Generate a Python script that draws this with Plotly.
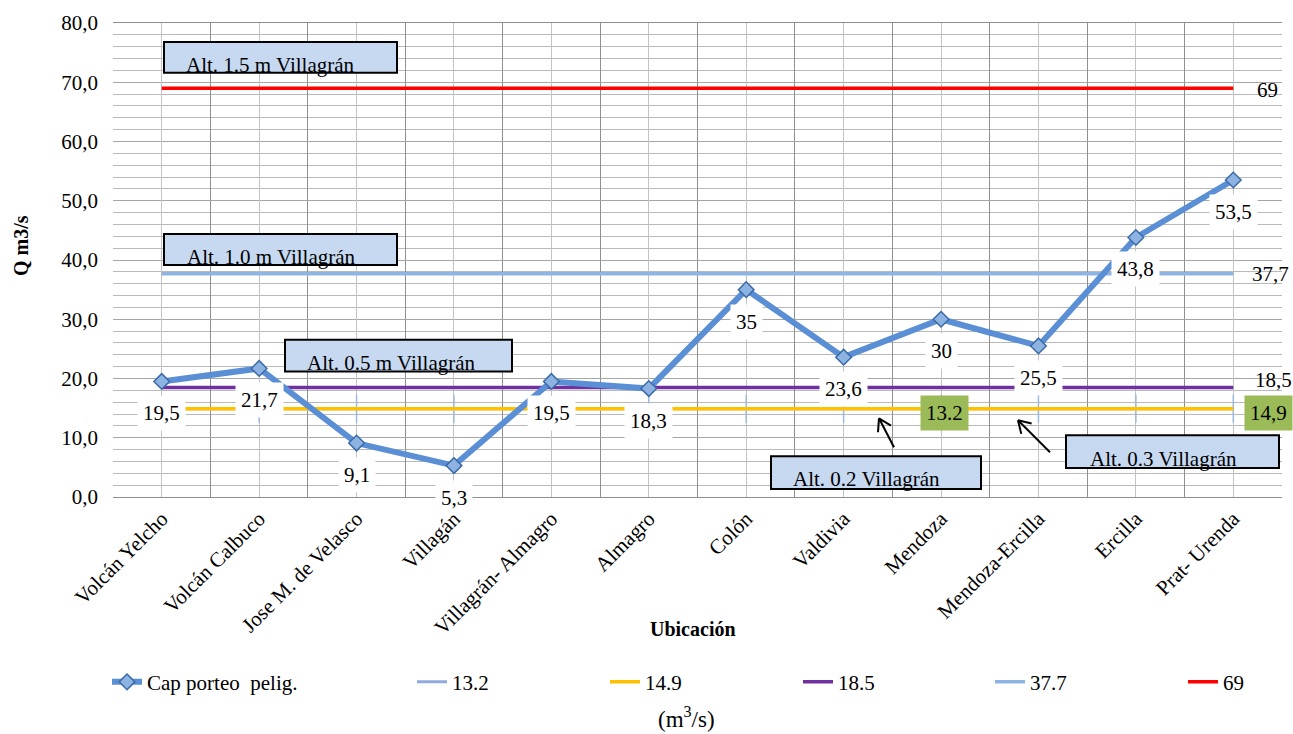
import math
import plotly.graph_objects as go

# ---- data ----
ubicaciones = ["Volcán Yelcho", "Volcán Calbuco", "Jose M. de Velasco", "Villagán",
               "Villagrán- Almagro", "Almagro", "Colón", "Valdivia", "Mendoza",
               "Mendoza-Ercilla", "Ercilla", "Prat- Urenda"]
cap_porteo = [19.5, 21.7, 9.1, 5.3, 19.5, 18.3, 35, 23.6, 30, 25.5, 43.8, 53.5]

ref_names = ["13.2", "14.9", "18.5", "37.7", "69"]
ref_levels = [14.9, 14.9, 18.5, 37.7, 69]
ref_colors = ["#8eaadb", "#ffc000", "#7030a0", "#8db4e2", "#ff0000"]

alt_labels = ["Alt. 1.5 m Villagrán", "Alt. 1.0 m Villagrán", "Alt. 0.5 m Villagrán",
              "Alt. 0.2 Villagrán", "Alt. 0.3 Villagrán"]

FONT = "Liberation Serif"
FS = 21
W, H = 1293, 734
L, R, T, B = 113, 11, 21, 237
PW, PH = W - L - R, H - T - B


def px(x):
    return (x - L) / PW


def py(y):
    return (H - B - y) / PH


def fmt(v):
    return f"{v:g}".replace(".", ",")


def f(size=FS):
    return dict(family=FONT, size=size, color="black")


fig = go.Figure()

# reference levels (horizontal series across all locations)
for i, (name, lvl, col) in enumerate(zip(ref_names, ref_levels, ref_colors)):
    if i == 0:
        # tick markers of the first level, kept out of the legend
        fig.add_trace(go.Scatter(
            x=ubicaciones, y=[lvl] * len(ubicaciones), mode="markers", showlegend=False,
            marker=dict(symbol="line-ns-open", size=20, color="#9db8e0",
                        line=dict(color="#9db8e0", width=1.5)),
            hoverinfo="skip"))
    fig.add_trace(go.Scatter(
        x=ubicaciones, y=[lvl] * len(ubicaciones), name=name, mode="lines",
        line=dict(color=col, width=3 if i == 0 else 3.5), legend=f"legend{i + 2}"))

# main series
fig.add_trace(go.Scatter(
    x=ubicaciones, y=cap_porteo, name="Cap porteo  pelig.", mode="lines+markers",
    line=dict(color="#5a8fd6", width=6),
    marker=dict(symbol="diamond", size=12, color="#8db3e2", line=dict(color="#3b6aa8", width=1.5)),
    legend="legend"))

# center gridlines on an overlay axis
fig.add_trace(go.Scatter(x=[0], y=[0], xaxis="x2", mode="markers",
                         marker=dict(opacity=0), showlegend=False, hoverinfo="skip"))

ann = []
# data labels for the main series
for cat, v in zip(ubicaciones, cap_porteo):
    ann.append(dict(x=cat, y=v, xref="x", yref="y", text=fmt(v), showarrow=False,
                    yshift=-32, bgcolor="white", borderpad=5, font=f()))

# end-of-line value labels
end_shift = {"13.2": (35, -4), "18.5": (40, 7), "37.7": (37, 0), "69": (34, -2)}
for name, lvl in zip(ref_names, ref_levels):
    if name == "14.9":
        continue
    dx, dy = end_shift[name]
    if name == "13.2":
        ann.append(dict(x=ubicaciones[-1], y=lvl, xref="x", yref="y", text=fmt(lvl),
                        showarrow=False, xshift=dx, yshift=dy, bgcolor="#9bbb59",
                        borderpad=5, font=f()))
        ann.append(dict(x=ubicaciones[8], y=lvl, xref="x", yref="y", text=name,
                        showarrow=False, xshift=3, yshift=-4, bgcolor="#9bbb59",
                        borderpad=5, font=f()))
    else:
        ann.append(dict(x=ubicaciones[-1], y=lvl, xref="x", yref="y", text=fmt(lvl),
                        showarrow=False, xshift=dx, yshift=dy, font=f()))

# annotation boxes
boxes = [(164, 40, 397, 71), (164, 233, 397, 264), (285, 339, 512, 371),
         (771, 456, 981, 489), (1066, 435, 1279, 468)]
text_pos = [(184, 63), (185, 256), (305, 362), (791, 479), (1088, 459)]
shapes = []
for (x0, y0, x1, y1), (tx, ty), lab in zip(boxes, text_pos, alt_labels):
    shapes.append(dict(type="rect", xref="paper", yref="paper",
                       x0=px(x0), x1=px(x1), y0=py(y1), y1=py(y0),
                       fillcolor="#c6d9f1", line=dict(color="black", width=2)))
    ann.append(dict(x=px(tx), y=py(ty), xref="paper", yref="paper", text=lab,
                    showarrow=False, xanchor="left", yanchor="middle", font=f()))

# open-headed arrows pointing to the low reference line (head, tail in pixels)
arrows = [((879, 418), (894, 447)), ((1018, 420), (1050, 452))]
for (hx, hy), (tx, ty) in arrows:
    line = dict(color="black", width=2)
    shapes.append(dict(type="line", xref="paper", yref="paper",
                       x0=px(tx), y0=py(ty), x1=px(hx), y1=py(hy), line=line))
    ang = math.atan2(ty - hy, tx - hx)
    for d in (-0.55, 0.55):
        ex = hx + 14 * math.cos(ang + d)
        ey = hy + 14 * math.sin(ang + d)
        shapes.append(dict(type="line", xref="paper", yref="paper",
                           x0=px(hx), y0=py(hy), x1=px(ex), y1=py(ey), line=line))

# axis titles and unit note
ann.append(dict(x=px(693), y=py(630), xref="paper", yref="paper", text="<b>Ubicación</b>",
                xanchor="center", yanchor="middle", showarrow=False, font=f(20)))
ann.append(dict(x=px(21), y=py(245), xref="paper", yref="paper", text="<b>Q m3/s</b>",
                xanchor="center", yanchor="middle", showarrow=False, textangle=-90,
                font=f(20)))
ann.append(dict(x=px(686), y=py(718), xref="paper", yref="paper", text="(m<sup>3</sup>/s)",
                xanchor="center", yanchor="middle", showarrow=False, font=f(23)))

# legends, one per entry
leg_text_x = [147, 452, 645, 838, 1030, 1223]
legend_cfg = {}
for i, tx in enumerate(leg_text_x):
    key = "legend" if i == 0 else f"legend{i + 1}"
    legend_cfg[key] = dict(x=px(tx - 40), y=py(683), xanchor="left", yanchor="middle",
                           orientation="h", bgcolor="rgba(0,0,0,0)", font=f())

fig.update_layout(
    width=W, height=H, margin=dict(l=L, r=R, t=T, b=B),
    paper_bgcolor="white", plot_bgcolor="white",
    separators=",.",
    font=f(),
    xaxis=dict(type="category", range=[-0.5, 11.5], tickangle=-45, tickson="boundaries",
               showgrid=True, gridcolor="#8f8f8f", gridwidth=1.3,
               showline=True, linecolor="#8f8f8f", linewidth=1.3, mirror=True,
               ticks="", tickfont=f(), zeroline=False),
    xaxis2=dict(overlaying="x", range=[-0.5, 11.5], tickmode="linear", tick0=0, dtick=1,
                showgrid=True, gridcolor="#c3c3c3", gridwidth=1.3, showticklabels=False,
                zeroline=False, anchor="y"),
    yaxis=dict(range=[0, 80], dtick=10, tickformat=".1f", showgrid=True,
               gridcolor="#a6a6a6", gridwidth=1.3,
               minor=dict(dtick=2, showgrid=True, gridcolor="#b9b9b9", gridwidth=1.2),
               zeroline=False, ticks="", tickfont=f(), ticklabelstandoff=14),
    annotations=ann, shapes=shapes, showlegend=True,
    **legend_cfg,
)

fig.write_html("out.html")
